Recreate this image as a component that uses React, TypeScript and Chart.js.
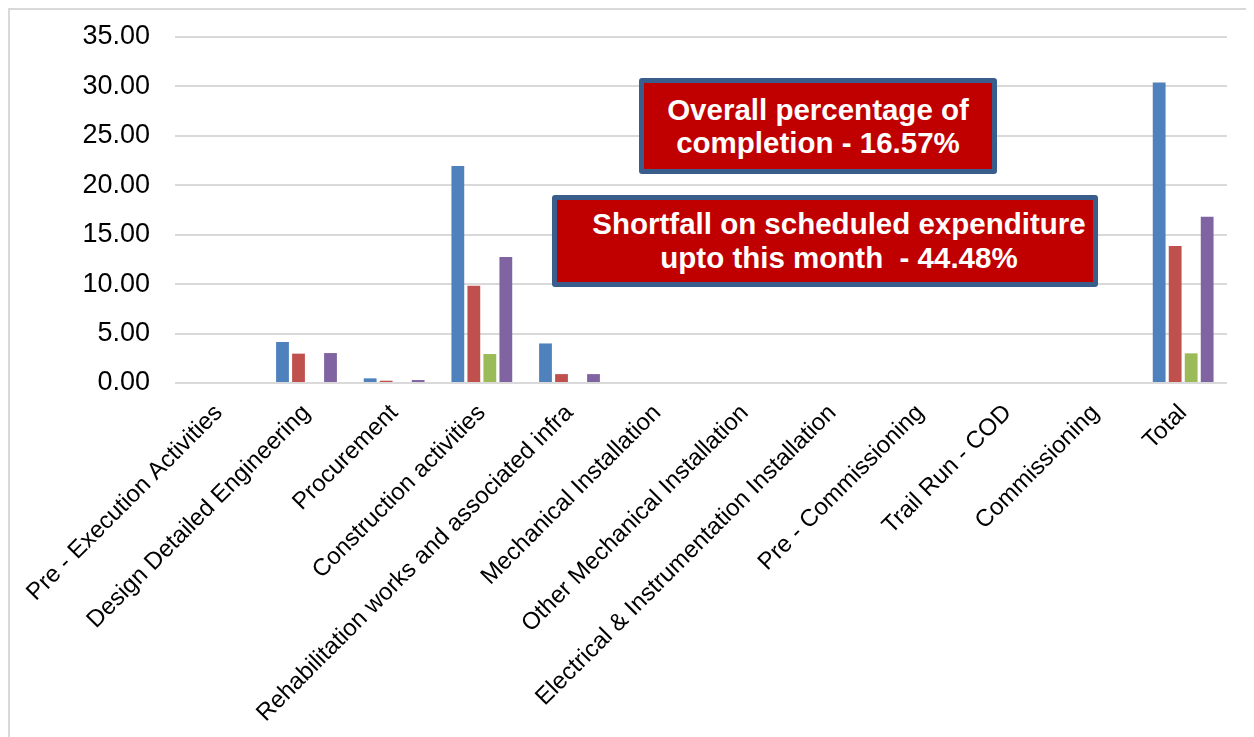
import React, { useEffect, useRef } from "react";
import { Chart, registerables } from "chart.js";

Chart.register(...registerables);

const categories = [
  "Pre - Execution Activities",
  "Design Detailed Engineering",
  "Procurement",
  "Construction activities",
  "Rehabilitation works and associated infra",
  "Mechanical Installation",
  "Other Mechanical Installation",
  "Electrical & Instrumentation Installation",
  "Pre - Commissioning",
  "Trail Run - COD",
  "Commissioning",
  "Total",
];

const seriesBlue = [0, 4.15, 0.47, 21.95, 4.0, 0, 0, 0, 0, 0, 0, 30.4];
const seriesRed = [0, 2.97, 0.23, 9.84, 0.9, 0, 0, 0, 0, 0, 0, 13.86];
const seriesGreen = [0, 0, 0, 2.93, 0, 0, 0, 0, 0, 0, 0, 3.0];
const seriesPurple = [0, 3.03, 0.3, 12.75, 0.9, 0, 0, 0, 0, 0, 0, 16.82];

const yTicks = [0, 5, 10, 15, 20, 25, 30, 35];

const FONT = "'Liberation Sans', Arial, sans-serif";

export default function App() {
  const canvasRef = useRef<HTMLCanvasElement | null>(null);

  useEffect(() => {
    if (!canvasRef.current) return;
    const mk = (label: string, data: number[], color: string) => ({
      label,
      data,
      backgroundColor: color,
      borderWidth: 0,
      categoryPercentage: 0.73,
      barPercentage: 0.8,
    });
    const chart = new Chart(canvasRef.current, {
      type: "bar",
      data: {
        labels: categories,
        datasets: [
          mk("Series 1", seriesBlue, "#4F81BD"),
          mk("Series 2", seriesRed, "#C0504D"),
          mk("Series 3", seriesGreen, "#9BBB59"),
          mk("Series 4", seriesPurple, "#8064A2"),
        ],
      },
      options: {
        animation: false,
        responsive: true,
        maintainAspectRatio: false,
        layout: { padding: { top: 27, right: 25, left: 0, bottom: 0 } },
        plugins: {
          legend: { display: false },
          tooltip: { enabled: false },
        },
        scales: {
          x: {
            grid: { display: false },
            border: { display: false },
            ticks: {
              autoSkip: false,
              maxRotation: 45,
              minRotation: 45,
              padding: 8,
              color: "#000",
              font: { family: FONT, size: 24 },
            },
            afterFit: (scale: any) => {
              scale.height = 354;
              scale.paddingTop = 0;
              scale.paddingBottom = 0;
            },
          },
          y: {
            min: 0,
            max: 35,
            afterBuildTicks: (scale: any) => {
              scale.ticks = yTicks.map((v) => ({ value: v }));
            },
            grid: { color: "#d9d9d9", lineWidth: 2, drawTicks: false },
            border: { display: false },
            ticks: {
              padding: 25,
              color: "#000",
              font: { family: FONT, size: 27 },
              callback: (v: any) => Number(v).toFixed(2),
            },
            afterFit: (scale: any) => {
              scale.width = 165;
              scale.paddingTop = 0;
              scale.paddingBottom = 0;
            },
          },
        },
      },
    });
    return () => chart.destroy();
  }, []);

  const boxStyle: React.CSSProperties = {
    position: "absolute",
    boxSizing: "border-box",
    background: "#C00000",
    border: "5px solid #3A5E8C",
    borderRadius: 3,
    color: "#fff",
    fontFamily: FONT,
    fontWeight: "bold",
    fontSize: 29.5,
    textAlign: "center",
    display: "flex",
    alignItems: "center",
    justifyContent: "center",
  };

  return (
    <div
      style={{
        position: "relative",
        width: 1246,
        height: 740,
        boxSizing: "border-box",
        borderTop: "2px solid #d9d9d9",
        borderLeft: "2px solid #d9d9d9",
        background: "#fff",
      }}
    >
      <div style={{ position: "absolute", left: 0, top: 0, width: 1242, height: 727 }}>
        <canvas ref={canvasRef} />
      </div>
      <div style={{ ...boxStyle, left: 629, top: 68, width: 358, height: 96, lineHeight: "33px" }}>
        <div>
          Overall percentage of
          <br />
          completion - 16.57%
        </div>
      </div>
      <div
        style={{
          ...boxStyle,
          left: 542,
          top: 185,
          width: 546,
          height: 92,
          lineHeight: "34px",
          paddingLeft: 28,
        }}
      >
        <div>
          Shortfall on scheduled expenditure
          <br />
          upto this month&nbsp; - 44.48%
        </div>
      </div>
    </div>
  );
}
